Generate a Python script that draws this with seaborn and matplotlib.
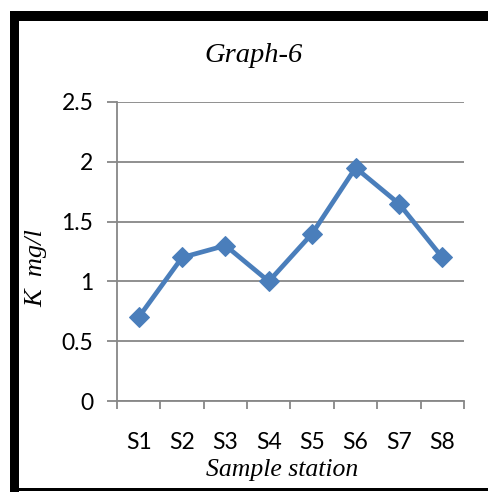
import matplotlib
matplotlib.use("Agg")
import matplotlib.pyplot as plt
from matplotlib.patches import Rectangle
from matplotlib.ticker import FixedLocator
import seaborn as sns
import pandas as pd

stations = ["S1", "S2", "S3", "S4", "S5", "S6", "S7", "S8"]
k_values = [0.7, 1.2, 1.3, 1.0, 1.4, 1.95, 1.65, 1.2]
y_ticks = [0, 0.5, 1, 1.5, 2, 2.5]
y_tick_labels = ["0", "0.5", "1", "1.5", "2", "2.5"]

sns.set_theme(style="white")
plt.rcParams["font.family"] = ["Lato", "DejaVu Sans"]

W, H = 489, 493
fig = plt.figure(figsize=(W / 100, H / 100), dpi=100)
ax = fig.add_axes([117 / W, (H - 401) / H, (464 - 117) / W, (401 - 102) / H])

df = pd.DataFrame({"station": stations, "K": k_values})
line_color = "#4A7EBB"
sns.lineplot(data=df, x="station", y="K", ax=ax, color=line_color,
             linewidth=3.4, marker="D", markersize=10.5,
             markeredgecolor=line_color, markerfacecolor=line_color, sort=False)

ax.set_xlim(-0.5, len(stations) - 0.5)
ax.set_ylim(0, 2.5)
ax.set_yticks(y_ticks)
ax.set_yticklabels(y_tick_labels)
ax.yaxis.grid(True, color="#878787", linewidth=1.3)
ax.set_axisbelow(True)

grey = "#878787"
for side in ["top", "right"]:
    ax.spines[side].set_visible(False)
for side in ["left", "bottom"]:
    ax.spines[side].set_color(grey)
    ax.spines[side].set_linewidth(1.3)

ax.set_xticks(range(len(stations)))
ax.set_xticklabels(stations)
ax.xaxis.set_minor_locator(FixedLocator([i - 0.5 for i in range(len(stations) + 1)]))
ax.tick_params(axis="x", which="major", length=0, pad=22, labelsize=16.5, labelcolor="black")
ax.tick_params(axis="x", which="minor", length=6, width=1.3, color=grey, direction="out", bottom=True)
ax.tick_params(axis="y", which="major", length=7, width=1.3, color=grey, direction="out",
               left=True, pad=10, labelsize=16.5, labelcolor="black")

ax.set_xlabel("Sample station", fontsize=18.5, fontstyle="italic",
              family="Liberation Serif", color="black")
ax.xaxis.set_label_coords(282 / W, 1 - 459 / H, transform=fig.transFigure)

ax.set_ylabel("K  mg/l", fontsize=19, fontstyle="italic",
              family="Liberation Serif", color="black")
ax.yaxis.set_label_coords(47 / W, 1 - 268 / H, transform=fig.transFigure)

fig.text(254 / W, 1 - 55 / H, "Graph-6", ha="center", va="center", fontsize=20.5,
         fontstyle="italic", family="Liberation Serif", color="black")

# Chart border: heavy top and left edges, thin bottom edge
fig.add_artist(Rectangle((10 / W, 1 - 21 / H), (W - 10) / W, 10 / H,
                         transform=fig.transFigure, color="black", lw=0))
fig.add_artist(Rectangle((10 / W, 1 - 492 / H), 9 / W, 481 / H,
                         transform=fig.transFigure, color="black", lw=0))
fig.add_artist(Rectangle((10 / W, 1 - 491 / H), (W - 10) / W, 3 / H,
                         transform=fig.transFigure, color="black", lw=0))

fig.savefig("out.png", dpi=100)
